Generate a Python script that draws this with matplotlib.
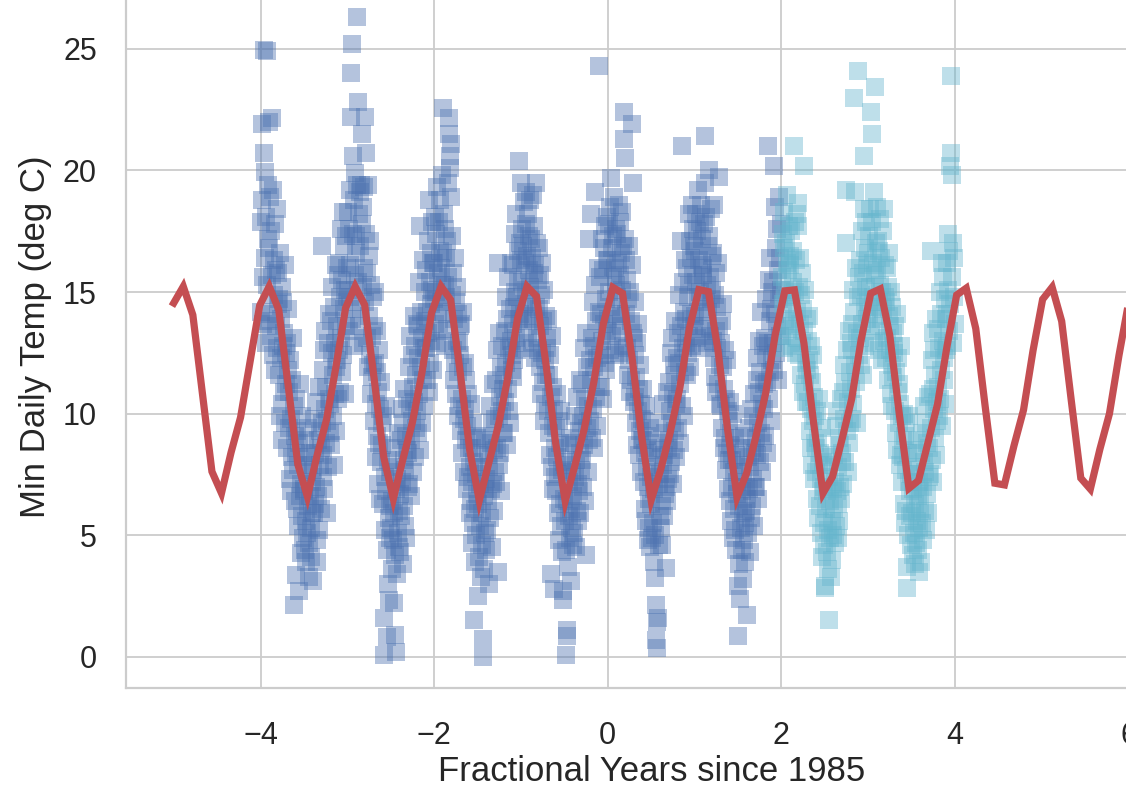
import numpy as np
import matplotlib
matplotlib.use("Agg")
import matplotlib.pyplot as plt

# ---------------- data ----------------
# model prediction, sampled on a regular grid of fractional years
pred_start, pred_stop, pred_n = -5.0, 6.0, 101
pred_temp = [
    14.55, 15.23, 14.06, 10.84, 7.62, 6.73, 8.4, 9.85, 12.15, 14.45,
    15.23, 14.27, 11.1, 7.91, 6.59, 8.26, 9.75, 11.95, 14.35, 15.23,
    14.47, 11.4, 8.2, 6.5, 8.12, 9.65, 11.7, 14.15, 15.23, 14.68,
    11.7, 8.5, 6.43, 7.98, 9.52, 11.5, 13.9, 15.23, 14.82, 12.0,
    8.79, 6.41, 7.84, 9.38, 11.3, 13.7, 15.19, 14.95, 12.3, 9.08,
    6.45, 7.7, 9.24, 11.05, 13.5, 15.1, 15.02, 12.6, 9.37, 6.57,
    7.55, 9.1, 10.85, 13.25, 15.05, 15.09, 12.9, 9.67, 6.73, 7.41,
    8.96, 10.6, 13.05, 14.95, 15.13, 13.2, 9.96, 6.93, 7.25, 8.82,
    10.4, 12.8, 14.88, 15.16, 13.5, 10.25, 7.14, 7.07, 8.68, 10.15,
    12.6, 14.7, 15.2, 13.8, 10.55, 7.35, 6.9, 8.54, 10.0, 12.4,
    14.55,
]

# observed minimum daily temperature, one list per year (years since 1985)
temp_m4 = [
    17.9, 14.2, 18.8, 21.9, 15.6, 13.7, 20.7, 24.96, 19.95, 16.4, 12.9, 18.1, 24.9, 15.3, 17.2, 13.8, 19.4, 22.0,
    16.8, 14.1, 18.9, 13.2, 17.5, 22.15, 15.7, 12.4, 19.2, 14.9, 16.3, 11.8, 17.8, 13.6, 15.9, 12.7, 18.4, 14.5,
    15.8, 11.6, 14.7, 9.9, 16.6, 12.3, 13.9, 10.4, 15.2, 8.9, 12.8, 14.6, 10.9, 13.3, 9.6, 16.1, 11.2, 12.5,
    12.9, 8.6, 11.8, 14.3, 9.4, 10.9, 7.3, 12.2, 9.8, 6.8, 11.4, 8.2, 13.1, 7.7, 2.14, 10.3, 6.4, 9.1,
    3.37, 8.4, 10.6, 6.1, 9.3, 5.4, 7.9, 2.7, 8.8, 6.6, 11.2, 4.26, 7.1, 9.9, 5.8, 8.2, 4.9, 6.9,
    6.8, 4.4, 8.9, 5.6, 3.9, 7.6, 5.1, 9.4, 6.2, 4.7, 7.9, 3.3, 6.6, 8.4, 5.3, 4.1, 7.2, 5.9,
    3.1, 7.7, 9.8, 5.9, 8.4, 6.3, 10.5, 7.0, 4.8, 3.9, 8.9, 6.6, 11.1, 5.2, 7.9, 9.3, 6.1, 8.6,
    9.6, 16.9, 7.4, 11.8, 8.3, 12.6, 6.9, 10.2, 13.4, 8.8, 11.1, 5.9, 9.7, 12.9, 7.8, 10.6, 14.1, 9.2,
    10.4, 13.8, 8.7, 12.5, 15.2, 9.9, 11.6, 14.4, 7.9, 12.9, 10.8, 16.1, 11.9, 9.3, 13.6, 12.2, 15.7, 10.6,
    12.6, 16.2, 10.9, 14.8, 17.6, 13.1, 11.7, 15.5, 18.3, 12.4, 14.3, 16.9, 10.8, 15.1, 13.6, 17.3, 14.6, 16.0,
]
temp_m3 = [
    15.1, 18.3, 13.4, 17.6, 14.8, 19.2, 16.1, 22.2, 24.0, 13.9, 25.2, 20.6, 17.4, 12.8, 18.8, 15.7, 19.9, 16.6,
    17.3, 19.4, 26.33, 22.8, 15.4, 18.2, 13.6, 16.9, 19.1, 14.3, 19.4, 17.8, 21.5, 15.2, 12.9, 18.5, 19.3, 16.0,
    14.6, 22.2, 17.4, 20.7, 13.1, 15.8, 19.4, 11.9, 16.5, 14.0, 12.4, 17.1, 10.8, 15.3, 13.2, 11.5, 14.8, 12.0,
    13.6, 9.7, 12.1, 15.0, 10.4, 8.2, 11.7, 13.4, 9.1, 10.9, 7.1, 12.6, 8.8, 10.2, 6.5, 11.3, 8.0, 9.6,
    8.7, 6.3, 9.9, 0.08, 1.6, 7.4, 5.2, 10.3, 6.8, 4.4, 0.8, 3.0, 8.1, 5.7, 2.34, 7.6, 4.9, 6.2,
    5.3, 7.8, 3.6, 6.4, 4.8, 8.6, 5.9, 2.2, 0.9, 4.2, 0.2, 6.9, 3.4, 7.3, 5.1, 9.2, 4.5, 6.0,
    6.7, 4.3, 8.9, 5.8, 10.2, 7.2, 3.8, 9.6, 6.2, 8.1, 11.0, 5.4, 7.7, 9.1, 4.9, 8.5, 10.6, 7.0,
    8.4, 11.9, 7.1, 10.3, 13.2, 8.9, 6.6, 12.4, 9.7, 11.1, 7.6, 14.0, 10.5, 8.2, 12.8, 9.4, 11.6, 13.7,
    10.1, 13.6, 9.2, 12.3, 15.4, 10.8, 8.5, 17.7, 11.9, 14.2, 9.6, 13.1, 16.3, 11.4, 12.7, 10.3, 15.0, 13.8,
    12.7, 15.9, 11.4, 14.2, 17.1, 13.3, 10.9, 18.8, 15.4, 12.1, 16.6, 14.5, 13.0, 17.9, 15.1, 11.8, 16.2, 14.7,
]
temp_m2 = [
    16.2, 13.7, 18.1, 15.0, 17.4, 12.9, 19.3, 15.8, 14.2, 17.9, 13.4, 16.7, 18.8, 14.6, 16.0, 19.8, 15.3, 22.56,
    16.6, 14.1, 18.2, 15.3, 12.8, 17.6, 14.8, 16.4, 13.5, 17.1, 15.6, 19.5, 22.15, 21.5, 20.6, 20.1, 18.9, 21.1,
    14.9, 17.3, 12.6, 15.8, 13.9, 11.4, 16.4, 12.1, 14.6, 10.8, 15.2, 13.0, 9.9, 14.1, 11.7, 12.9, 10.3, 13.6,
    12.4, 9.3, 13.7, 10.6, 8.4, 11.9, 14.2, 9.8, 7.6, 12.1, 10.2, 8.9, 11.4, 6.9, 9.5, 10.8, 7.4, 8.6,
    9.1, 5.9, 7.8, 10.4, 6.4, 8.6, 4.7, 7.2, 9.6, 5.5, 1.5, 8.0, 6.1, 3.9, 7.5, 5.0, 9.0, 6.7,
    2.5, 6.3, 8.4, 4.1, 7.1, 5.4, 3.3, 7.8, 5.9, 4.6, 0.0, 0.72, 6.6, 3.6, 8.9, 5.1, 6.9, 4.4,
    7.3, 5.2, 9.1, 6.4, 8.3, 3.0, 7.8, 10.3, 5.7, 8.8, 6.9, 4.5, 9.6, 7.1, 11.2, 6.0, 8.5, 7.6,
    9.8, 7.2, 11.4, 8.6, 12.6, 3.5, 16.2, 9.9, 7.9, 13.3, 10.7, 8.4, 11.9, 6.8, 10.1, 12.8, 9.2, 11.0,
    11.6, 9.2, 13.4, 10.5, 14.8, 12.1, 8.7, 13.9, 11.0, 15.6, 10.1, 12.7, 14.3, 9.6, 13.0, 16.2, 11.8, 12.4,
    13.7, 11.5, 16.1, 14.4, 12.2, 17.4, 15.0, 13.1, 18.2, 14.8, 12.6, 16.7, 15.5, 13.9, 20.4, 17.0, 14.1, 16.3,
]
temp_m1 = [
    19.5, 15.4, 17.6, 13.8, 16.9, 18.7, 14.5, 16.2, 12.9, 17.8, 15.1, 19.1, 14.0, 16.5, 18.2, 13.3, 15.9, 17.3,
    15.2, 18.8, 14.6, 17.2, 12.7, 16.4, 19.0, 13.9, 15.8, 17.7, 12.3, 16.1, 19.5, 14.4, 13.1, 17.0, 15.5, 12.6,
    14.3, 16.8, 11.9, 13.6, 15.7, 10.8, 14.9, 12.5, 16.2, 11.3, 13.8, 9.7, 15.1, 12.2, 10.4, 14.0, 11.6, 13.1,
    12.7, 10.1, 13.9, 9.2, 11.6, 8.3, 12.4, 3.4, 10.7, 7.8, 13.2, 9.5, 11.1, 6.9, 2.8, 10.2, 8.6, 7.4,
    9.4, 6.8, 8.2, 10.8, 5.9, 7.5, 9.7, 4.8, 8.8, 6.3, 10.1, 5.4, 7.7, 4.3, 2.34, 2.7, 6.5, 8.0,
    5.6, 7.9, 4.4, 0.08, 0.84, 1.1, 6.4, 8.7, 3.7, 5.8, 7.2, 4.9, 9.0, 6.1, 3.1, 5.3, 7.6, 4.6,
    6.6, 8.8, 5.1, 7.4, 9.9, 4.5, 8.1, 6.0, 10.7, 7.1, 5.6, 9.3, 6.8, 11.4, 8.4, 5.9, 7.7, 9.6,
    8.1, 11.2, 7.0, 9.9, 12.7, 8.7, 10.6, 6.4, 13.3, 4.2, 9.4, 11.9, 7.6, 10.3, 17.2, 8.9, 12.2, 9.7,
    18.2, 11.4, 9.0, 13.1, 10.2, 14.6, 11.9, 8.6, 12.8, 15.3, 19.1, 10.7, 13.8, 9.5, 12.3, 16.0, 11.1, 14.2,
    24.3, 12.4, 15.6, 11.1, 14.1, 17.2, 13.0, 15.9, 10.6, 16.8, 13.7, 12.1, 17.7, 14.7, 11.8, 16.3, 13.4, 18.1,
]
temp_0 = [
    16.3, 13.9, 17.8, 15.0, 12.6, 18.5, 19.7, 14.4, 16.8, 13.2, 17.3, 15.6, 18.9, 14.1, 16.0, 12.4, 17.6, 15.3,
    14.8, 17.4, 13.3, 16.2, 18.6, 12.5, 15.7, 17.9, 14.0, 16.6, 13.6, 18.3, 15.1, 16.9, 12.8, 21.3, 22.4, 20.5,
    17.2, 14.1, 16.3, 12.7, 15.5, 11.6, 14.7, 16.9, 12.2, 15.0, 10.9, 13.8, 11.4, 16.1, 21.9, 19.5, 13.3, 10.5,
    13.1, 10.7, 12.4, 14.6, 9.6, 11.5, 8.7, 12.9, 10.1, 13.7, 8.3, 11.0, 9.3, 12.0, 7.6, 10.4, 8.9, 9.8,
    8.9, 11.0, 7.2, 9.7, 6.1, 8.4, 10.3, 5.6, 7.8, 9.1, 4.8, 7.0, 8.6, 5.3, 6.5, 9.4, 4.5, 7.4,
    6.3, 4.9, 8.2, 5.5, 7.6, 3.9, 6.9, 5.0, 3.24, 2.14, 0.7, 0.36, 1.45, 1.6, 8.5, 4.6, 7.1, 5.8,
    7.5, 5.3, 8.8, 6.2, 9.6, 4.6, 7.9, 10.4, 5.8, 8.3, 6.7, 9.2, 3.65, 7.0, 10.9, 6.4, 8.6, 7.3,
    8.9, 11.3, 7.5, 10.1, 12.5, 8.0, 9.6, 13.1, 7.1, 10.8, 12.0, 8.5, 11.6, 9.3, 13.8, 10.4, 8.2, 12.3,
    10.6, 13.3, 9.4, 12.1, 14.9, 11.2, 8.8, 17.1, 13.6, 10.3, 21.0, 12.7, 15.4, 9.9, 14.2, 11.7, 16.3, 12.9,
    13.9, 11.6, 16.0, 14.8, 12.5, 18.2, 15.3, 13.2, 17.1, 11.9, 16.4, 14.1, 18.6, 12.8, 15.7, 17.6, 13.6, 16.9,
]
temp_p1 = [
    16.7, 14.0, 18.2, 15.4, 13.1, 17.5, 19.2, 14.8, 16.3, 12.7, 17.9, 15.0, 18.6, 13.6, 16.1, 14.3, 17.2, 15.7,
    16.0, 13.5, 17.8, 21.4, 19.5, 14.6, 18.1, 15.3, 12.9, 16.9, 14.2, 17.3, 20.0, 15.6, 13.2, 18.4, 14.7, 16.5,
    15.1, 13.0, 16.6, 18.6, 12.3, 14.9, 11.5, 15.8, 13.4, 10.9, 14.4, 12.7, 16.2, 11.2, 19.75, 13.6, 10.4, 12.0,
    12.9, 10.3, 13.8, 9.4, 11.9, 14.5, 8.6, 11.0, 12.6, 9.0, 10.6, 7.7, 12.2, 8.4, 10.1, 6.9, 9.7, 8.1,
    8.7, 10.5, 6.4, 9.2, 5.6, 8.1, 7.0, 10.0, 4.9, 7.6, 6.1, 9.0, 5.2, 8.3, 4.4, 7.2, 6.7, 2.9,
    0.84, 6.2, 3.8, 7.9, 2.4, 5.3, 8.6, 4.4, 6.8, 3.2, 5.9, 7.6, 4.8, 9.1, 5.5, 3.9, 7.0, 6.0,
    6.5, 1.73, 8.2, 5.1, 9.4, 6.9, 4.3, 7.8, 10.2, 5.7, 8.6, 6.2, 9.9, 7.3, 5.4, 10.8, 7.0, 8.4,
    9.0, 7.0, 11.4, 8.3, 12.3, 9.6, 6.5, 10.9, 13.0, 8.0, 11.7, 9.2, 14.2, 7.6, 10.4, 12.8, 8.8, 11.2,
    10.2, 13.1, 9.1, 12.4, 14.7, 11.3, 8.4, 21.0, 12.9, 15.5, 10.6, 13.8, 11.7, 16.4, 9.7, 14.3, 12.2, 15.0,
    12.9, 15.4, 11.8, 20.2, 18.5, 14.1, 16.8, 12.5, 17.6, 13.6, 15.9, 11.4, 18.9, 14.7, 16.4, 13.2, 17.8, 15.1,
]
temp_p2 = [
    15.6, 13.2, 17.4, 14.5, 16.8, 12.7, 18.3, 15.1, 13.8, 17.0, 14.3, 16.2, 19.0, 13.5, 15.9, 17.7, 14.8, 16.5,
    16.1, 13.6, 17.5, 14.9, 12.8, 16.7, 15.4, 21.0, 13.9, 17.9, 15.0, 12.5, 16.3, 14.2, 18.2, 13.1, 17.7, 18.65,
    15.2, 12.4, 16.4, 13.7, 14.9, 11.6, 15.8, 12.9, 14.3, 10.9, 20.2, 13.4, 11.2, 15.1, 12.1, 10.5, 13.9, 11.8,
    13.0, 10.5, 12.2, 14.0, 9.3, 11.6, 8.6, 12.8, 10.2, 7.9, 11.3, 9.7, 12.4, 7.3, 10.7, 8.8, 9.9, 7.6,
    8.6, 10.1, 6.5, 9.0, 5.7, 7.9, 10.6, 6.2, 8.4, 5.1, 7.3, 9.4, 4.1, 6.8, 8.0, 5.5, 7.0, 4.6,
    2.9, 2.82, 6.1, 7.9, 4.3, 6.8, 3.6, 5.2, 1.52, 7.4, 4.9, 6.4, 3.3, 8.2, 5.6, 4.0, 6.9, 5.0,
    6.1, 8.3, 4.7, 7.2, 9.5, 5.4, 6.8, 10.1, 4.9, 7.8, 6.3, 9.0, 5.6, 8.7, 7.0, 10.6, 6.5, 8.0,
    8.4, 10.9, 7.1, 9.8, 12.0, 8.0, 11.3, 17.0, 19.2, 9.3, 12.6, 7.6, 10.5, 13.4, 8.8, 11.7, 9.6, 12.9,
    11.0, 13.7, 9.8, 12.6, 15.1, 10.4, 14.2, 23.0, 19.1, 12.0, 16.0, 11.3, 13.3, 9.6, 24.1, 14.8, 12.4, 15.6,
    13.1, 16.3, 12.0, 14.9, 17.5, 13.7, 11.6, 15.8, 18.4, 20.6, 14.4, 16.8, 12.8, 15.2, 17.9, 13.9, 16.1, 14.6,
]
temp_p3 = [
    16.6, 14.1, 17.3, 18.4, 15.2, 22.4, 13.6, 17.9, 21.5, 14.8, 16.2, 19.1, 12.9, 15.7, 23.45, 17.0, 14.4, 18.5,
    15.9, 13.4, 17.1, 14.6, 16.7, 12.6, 15.3, 18.0, 13.9, 16.4, 12.2, 15.0, 17.5, 14.3, 18.4, 13.0, 16.1, 14.8,
    14.6, 12.3, 16.0, 13.1, 15.2, 11.4, 14.0, 16.6, 12.6, 13.6, 10.8, 15.0, 12.0, 14.4, 10.3, 13.3, 11.5, 12.8,
    12.5, 10.1, 13.6, 9.2, 11.7, 14.1, 8.5, 10.9, 12.3, 9.6, 11.2, 7.9, 10.4, 12.8, 8.3, 9.9, 7.2, 8.9,
    8.2, 10.0, 6.3, 9.1, 5.5, 7.7, 9.6, 6.0, 2.82, 3.7, 8.4, 5.0, 7.2, 9.9, 5.8, 6.8, 4.6, 7.5,
    5.9, 7.8, 4.2, 6.9, 5.1, 8.5, 3.8, 6.3, 7.5, 4.7, 5.6, 8.9, 4.4, 6.6, 3.5, 7.2, 5.3, 6.1,
    6.8, 3.9, 8.4, 5.5, 9.2, 7.0, 4.8, 8.0, 10.3, 6.0, 7.6, 5.2, 9.6, 6.7, 8.8, 5.9, 10.7, 7.4,
    8.6, 10.8, 7.5, 16.7, 9.4, 12.2, 8.1, 11.0, 13.3, 7.2, 10.2, 12.6, 9.0, 11.6, 8.3, 13.9, 10.5, 9.7,
    11.1, 13.5, 9.9, 12.7, 15.0, 10.6, 14.1, 11.8, 16.2, 9.5, 13.0, 15.6, 11.4, 12.3, 14.7, 10.4, 13.9, 12.6,
    14.1, 16.2, 12.8, 17.4, 15.1, 13.4, 16.7, 14.5, 20.2, 23.9, 20.7, 19.8, 15.6, 12.9, 17.0, 14.8, 16.4, 13.7,
]

train_years = [-4, -3, -2, -1, 0, 1]
train_temps = [temp_m4, temp_m3, temp_m2, temp_m1, temp_0, temp_p1]
test_years = [2, 3]
test_temps = [temp_p2, temp_p3]

x_ticks = [-4, -2, 0, 2, 4, 6]
y_ticks = [0, 5, 10, 15, 20, 25]
x_label = "Fractional Years since 1985"
y_label = "Min Daily Temp (deg C)"

# ---------------- styling ----------------
BLUE = "#4C72B0"
CYAN = "#64B5CD"
RED = "#C44E52"
GRID = "#CCCCCC"
TEXT = "#262626"

plt.rcParams["font.family"] = ["Liberation Sans", "DejaVu Sans"]


def year_positions(year, values):
    n = len(values)
    return year + (np.arange(n) + 0.5) / n


train_x = np.concatenate([year_positions(y, v) for y, v in zip(train_years, train_temps)])
train_y = np.concatenate(train_temps)
test_x = np.concatenate([year_positions(y, v) for y, v in zip(test_years, test_temps)])
test_y = np.concatenate(test_temps)
pred_x = np.linspace(pred_start, pred_stop, pred_n)

W, H = 1126, 787
fig = plt.figure(figsize=(W / 100, H / 100), dpi=100)
fig.patch.set_facecolor("white")

left_px, bottom_px = 126, 688
xlim = (-5.55, 6.55)
ylim = (-1.28, 27.6)
px_per_x = 86.8
px_per_y = 24.32
ax_w = (xlim[1] - xlim[0]) * px_per_x
ax_h = (ylim[1] - ylim[0]) * px_per_y
ax = fig.add_axes([left_px / W, (H - bottom_px) / H, ax_w / W, ax_h / H])
ax.set_facecolor("white")

msize = 160
ax.scatter(train_x, train_y, marker="s", s=msize, color=BLUE, alpha=0.42,
           linewidths=0, zorder=2)
ax.scatter(test_x, test_y, marker="s", s=msize, color=CYAN, alpha=0.42,
           linewidths=0, zorder=2)
ax.plot(pred_x, pred_temp, color=RED, lw=5.2, zorder=3, solid_joinstyle="miter")

ax.set_xlim(*xlim)
ax.set_ylim(*ylim)
ax.set_xticks(x_ticks)
ax.set_yticks(y_ticks)
ax.set_axisbelow(True)
ax.grid(True, color=GRID, lw=1.3)

for side in ("top", "right"):
    ax.spines[side].set_visible(False)
for side in ("left", "bottom"):
    ax.spines[side].set_color(GRID)
    ax.spines[side].set_linewidth(1.6)

ax.tick_params(axis="both", length=0, labelsize=22, labelcolor=TEXT)
ax.tick_params(axis="y", pad=21)
ax.tick_params(axis="x", pad=23.5)
ax.set_xlabel(x_label, fontsize=25, color=TEXT, labelpad=3)
ax.set_ylabel(y_label, fontsize=25, color=TEXT, labelpad=8)

fig.savefig("out.png", dpi=100, facecolor="white")
